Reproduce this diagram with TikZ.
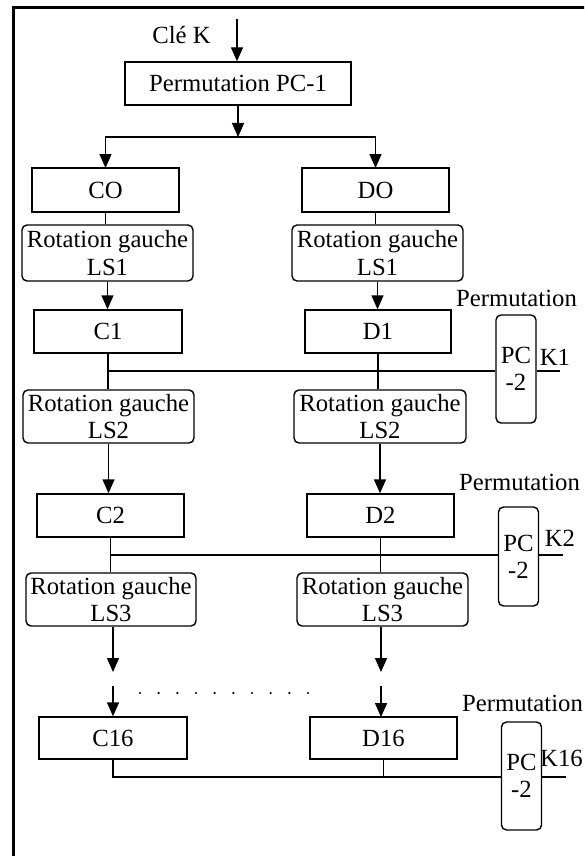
\documentclass[tikz,border=0pt]{standalone}
\usepackage{fontspec}
\setmainfont{Liberation Serif}
\usetikzlibrary{arrows.meta}

\tikzset{
  keybox/.style={draw, line width=0.7pt, inner sep=0pt},
  rotbox/.style={draw, line width=0.7pt, rounded corners=2.5pt, inner sep=0pt, align=center},
  pcbox/.style={draw, line width=0.7pt, rounded corners=2.5pt, inner sep=0pt, align=center, minimum width=20pt},
  flow/.style={line width=0.7pt, -{Triangle[length=7pt,width=6pt]}},
  wire/.style={line width=0.7pt}
}

\begin{document}
\begin{tikzpicture}[x=0.5pt, y=-0.5pt, font=\fontsize{12.35pt}{13.6pt}\selectfont]

\clip (0,0) rectangle (584,856);
\draw [line width=1.5pt] (13.5,870) -- (13.5,7.3) -- (600,7.3);

%%%%%%%%%%%%%%% Key and PC-1

\node (clek) at (181.5,35) {Clé K};
\coordinate (kin) at (237,19);
\node [keybox, minimum width=113pt, minimum height=21.5pt] (pc1) at (238,83.5) {Permutation PC-1};
\coordinate (split) at (238,137);

\draw [flow] (kin) -- (kin |- pc1.north);
\draw [flow] (pc1.south) -- (split);
\draw [flow] (split) -| (105.5,168);
\draw [flow] (split) -| (375.5,168);

%%%%%%%%%%%%%%% Registers and rotations

\node [keybox, minimum width=73.5pt, minimum height=22pt] (co) at (105.5,190) {CO};
\node [keybox, minimum width=73.5pt, minimum height=22pt] (do) at (375.5,190) {DO};

\node [rotbox, minimum width=85.5pt, minimum height=28pt] (rotlA) at (107.5,253) {Rotation gauche\\LS1};
\node [rotbox, minimum width=85.5pt, minimum height=28pt] (rotrA) at (377.5,253) {Rotation gauche\\LS1};

\node [keybox, minimum width=74pt, minimum height=21.5pt] (c1) at (108,331.5) {C1};
\node [keybox, minimum width=73pt, minimum height=21.5pt] (d1) at (378,331.5) {D1};

\node [rotbox, minimum width=85.5pt, minimum height=26.5pt] (rotlB) at (108.5,416.5) {Rotation gauche\\LS2};
\node [rotbox, minimum width=86pt, minimum height=26.5pt] (rotrB) at (380,416.5) {Rotation gauche\\LS2};

\node [keybox, minimum width=73.5pt, minimum height=21.5pt] (c2) at (110.5,515.5) {C2};
\node [keybox, minimum width=73.5pt, minimum height=21.5pt] (d2) at (380.5,515.5) {D2};

\node [rotbox, minimum width=85pt, minimum height=26.5pt] (rotlC) at (111,599.5) {Rotation gauche\\LS3};
\node [rotbox, minimum width=85.5pt, minimum height=26.5pt] (rotrC) at (382.5,599.5) {Rotation gauche\\LS3};

\node [keybox, minimum width=74pt, minimum height=21pt] (c16) at (113,738) {C16};
\node [keybox, minimum width=73.5pt, minimum height=21pt] (d16) at (383.5,738) {D16};

\draw [wire] (co.south) -- (co.south |- rotlA.north);
\draw [wire] (do.south) -- (do.south |- rotrA.north);
\draw [flow] (rotlA.south) -- (rotlA.south |- c1.north);
\draw [flow] (rotrA.south) -- (rotrA.south |- d1.north);

\draw [wire] (c1.south) -- (c1.south |- rotlB.north);
\draw [wire] (d1.south) -- (d1.south |- rotrB.north);
\draw [flow] (rotlB.south) -- (rotlB.south |- c2.north);
\draw [flow] (rotrB.south) -- (rotrB.south |- d2.north);

\draw [wire] (c2.south) -- (c2.south |- rotlC.north);
\draw [wire] (d2.south) -- (d2.south |- rotrC.north);

%%%%%%%%%%%%%%% Skipped rounds

\coordinate (gapl) at (113,672);
\coordinate (gapr) at (381,672);
\draw [flow] (gapl |- rotlC.south) -- (gapl);
\draw [flow] (gapr |- rotrC.south) -- (gapr);
\draw [flow] (113,686) -- (c16.north);
\draw [flow] (381,686) -- (381,717);
\foreach \i in {0,...,9}
  \fill (140+18.67*\i,693) circle (1.2);

%%%%%%%%%%%%%%% PC-2 permutations

\node (permA) at (516.5,298) {Permutation};
\node (permB) at (519.5,482) {Permutation};
\node (permC) at (522.5,703) {Permutation};

\node [pcbox, minimum height=54pt] (pcA) at (516,369) {PC\\-2};
\node [pcbox, minimum height=49.5pt] (pcB) at (518.5,556.5) {PC\\-2};
\node [pcbox, minimum height=54pt] (pcC) at (521.5,776) {PC\\-2};

\coordinate (jA) at (108,371);
\coordinate (jB) at (110.5,555);
\coordinate (jC) at (113,777);

\draw [wire] (c1.south |- jA) -- (pcA.west |- jA);
\draw [wire] (c2.south |- jB) -- (pcB.west |- jB);
\draw [wire] (c16.south) -- (c16.south |- jC) -- (pcC.west |- jC);
\draw [wire] (d16.south) -- (d16.south |- jC);

\coordinate (kA) at (560,371);
\coordinate (kB) at (563,555);
\coordinate (kC) at (566,777);
\draw [wire] (pcA.east |- kA) -- (kA);
\draw [wire] (pcB.east |- kB) -- (kB);
\draw [wire] (pcC.east |- kC) -- (kC);

\node (k1) at (555,357) {K1};
\node (k2) at (560,538) {K2};
\node (k16) at (561.5,758) {K16};

\end{tikzpicture}
\end{document}
